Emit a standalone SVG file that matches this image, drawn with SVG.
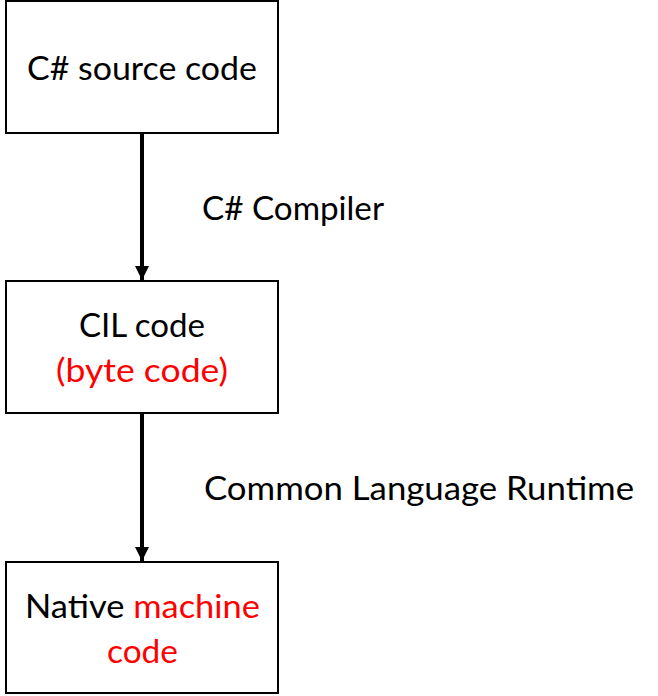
<svg xmlns="http://www.w3.org/2000/svg" width="658" height="696" viewBox="0 0 658 696">
<style>
.box{fill:#fff;stroke:#000;stroke-width:2}
.t{font-family:Lato,"Open Sans","Liberation Sans",sans-serif;font-size:33px;fill:#000}
.r{fill:#ff0000}
.shaft{stroke:#000;stroke-width:4;fill:none}
</style>
<defs>
<marker id="ah" markerUnits="userSpaceOnUse" markerWidth="14" markerHeight="15" refX="14" refY="7" orient="auto" viewBox="0 0 14 14">
<path d="M0,0 L14,7 L0,14 Z" fill="#000"/>
</marker>
</defs>
<g id="connectors">
<line class="shaft" x1="142" y1="134" x2="142" y2="280" marker-end="url(#ah)"/>
<line class="shaft" x1="142" y1="414" x2="142" y2="561" marker-end="url(#ah)"/>
<text class="t" x="202" y="220" textLength="182" lengthAdjust="spacingAndGlyphs">C# Compiler</text>
<text class="t" x="204" y="500" textLength="430" lengthAdjust="spacingAndGlyphs">Common Language Runtime</text>
</g>
<g id="source">
<rect class="box" x="6" y="1" width="272" height="132"/>
<text class="t" x="27" y="80" textLength="230" lengthAdjust="spacingAndGlyphs">C# source code</text>
</g>
<g id="cil">
<rect class="box" x="6" y="281" width="272" height="132"/>
<text class="t" x="79" y="337" textLength="126" lengthAdjust="spacingAndGlyphs">CIL code</text>
<text class="t r" x="56" y="382" textLength="172" lengthAdjust="spacingAndGlyphs">(byte code)</text>
</g>
<g id="native">
<rect class="box" x="6" y="562" width="272" height="131"/>
<text class="t" x="25" y="618" textLength="235" lengthAdjust="spacingAndGlyphs">Native <tspan class="r">machine</tspan></text>
<text class="t r" x="107" y="663" textLength="71" lengthAdjust="spacingAndGlyphs">code</text>
</g>
</svg>
